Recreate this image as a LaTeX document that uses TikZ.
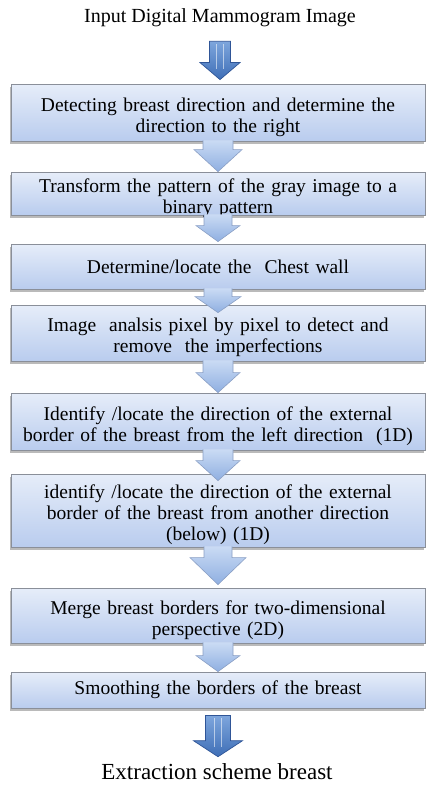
\documentclass[tikz,border=0pt]{standalone}
\usepackage{fontspec}
\setmainfont{Liberation Serif}
\usetikzlibrary{calc,shadows}
\definecolor{boxtop}{HTML}{E6EDF9}
\definecolor{boxbot}{HTML}{B9CCEE}
\definecolor{boxedge}{HTML}{8A8F99}
\definecolor{arrtop}{HTML}{CADBF4}
\definecolor{arrbot}{HTML}{8FAFE1}
\definecolor{arredge}{HTML}{8A9FC4}
\definecolor{dbltop}{HTML}{7EA6DD}
\definecolor{dblbot}{HTML}{3E6EB6}
\definecolor{dbledge}{HTML}{2F5597}
\tikzset{
 flowbox/.style={draw=boxedge, line width=0.8pt, top color=boxtop, bottom color=boxbot,
   minimum width=414pt, text width=410pt, inner xsep=2pt, inner ysep=0pt, align=center,
   font=\fontsize{19.5}{21}\selectfont,
   drop shadow={shadow xshift=-1.5pt, shadow yshift=-2.5pt, opacity=0.45, fill=black!60}},
 lowered/.style={execute at end node={\par\vspace*{-9pt}}},
 flowarr/.style={top color=arrtop, bottom color=arrbot, draw=arredge, line width=0.6pt, line join=miter},
 dblarr/.style={top color=dbltop, bottom color=dblbot, draw=dbledge, line width=0.7pt, line join=miter},
 stripe/.style={draw=white, opacity=0.55, line width=1.6pt},
 titletext/.style={font=\fontsize{20}{24}\selectfont, inner sep=0pt},
 endtext/.style={font=\fontsize{23}{27}\selectfont, inner sep=0pt}
}
% #1 from, #2 to, #3 shaft half width, #4 head half width, #5 head length, #6 tip overlap
\newcommand{\flowarrow}[6]{%
 \path[flowarr] let \p1=(#1.south), \p2=(#2.north) in
  (\x1-#3pt,\y1+1pt) -- (\x1-#3pt,\y2-#6pt+#5pt) -- (\x1-#4pt,\y2-#6pt+#5pt) -- (\x1,\y2-#6pt)
  -- (\x1+#4pt,\y2-#6pt+#5pt) -- (\x1+#3pt,\y2-#6pt+#5pt) -- (\x1+#3pt,\y1+1pt);}
% #1 from, #2 to, #3 start gap, #4 shaft half, #5 head half, #6 head length, #7 tip gap
\newcommand{\dblarrow}[7]{%
 \path[dblarr] let \p1=(#1.south), \p2=(#2.north) in
  (\x1-#4pt,\y1-#3pt) -- (\x1-#4pt,\y2+#7pt+#6pt) -- (\x1-#5pt,\y2+#7pt+#6pt) -- (\x1,\y2+#7pt)
  -- (\x1+#5pt,\y2+#7pt+#6pt) -- (\x1+#4pt,\y2+#7pt+#6pt) -- (\x1+#4pt,\y1-#3pt) -- cycle;
 \path[stripe] let \p1=(#1.south), \p2=(#2.north) in
  (\x1-3.5pt,\y1-#3pt-3pt) -- (\x1-3.5pt,\y2+#7pt+#6pt-6pt)
  (\x1+3.5pt,\y1-#3pt-3pt) -- (\x1+3.5pt,\y2+#7pt+#6pt-6pt);}
\begin{document}
\begin{tikzpicture}[x=1pt,y=-1pt]
\useasboundingbox (0,0) rectangle (426,792);
\node[titletext] (t1) at (220,18) {Input Digital Mammogram Image};
\node[flowbox, lowered, minimum height=57pt] (b1) at (218,112.5) {Detecting breast direction and determine the\\ direction to the right};
\node[flowbox, lowered, minimum height=43pt] (b2) at (218,193.5) {Transform the pattern of the gray image to a\\ binary pattern};
\node[flowbox, minimum height=45pt] (b3) at (218,266.5) {Determine/locate the\ \ Chest wall};
\node[flowbox, lowered, minimum height=56pt] (b4) at (218,333) {Image\ \ analsis pixel by pixel to detect and\\ remove\ \ the imperfections};
\node[flowbox, lowered, minimum height=57pt] (b5) at (218,421.5) {Identify /locate the direction of the external\\ border of the breast from the left direction\ \ (1D)};
\node[flowbox, lowered, minimum height=73pt] (b6) at (218,510.5) {identify /locate the direction of the external\\ border of the breast from another direction\\ (below) (1D)};
\node[flowbox, lowered, minimum height=55pt] (b7) at (218,615.5) {Merge breast borders for two-dimensional\\ perspective (2D)};
\node[flowbox, minimum height=36pt] (b8) at (218,690) {Smoothing the borders of the breast};
\node[endtext] (t2) at (217,772) {Extraction scheme breast};
\dblarrow{t1}{b1}{14}{10.5}{20}{17}{4}
\flowarrow{b1}{b2}{15}{24}{22}{0}
\flowarrow{b2}{b3}{14}{22}{16}{-2}
\flowarrow{b3}{b4}{14}{23}{16}{8}
\flowarrow{b4}{b5}{15}{22}{20}{0}
\flowarrow{b5}{b6}{15}{22}{20}{7}
\flowarrow{b6}{b7}{14}{28}{27}{-3}
\flowarrow{b7}{b8}{15}{22}{16}{0}
\dblarrow{b8}{t2}{7}{12.5}{24.5}{16}{7}
\end{tikzpicture}
\end{document}
